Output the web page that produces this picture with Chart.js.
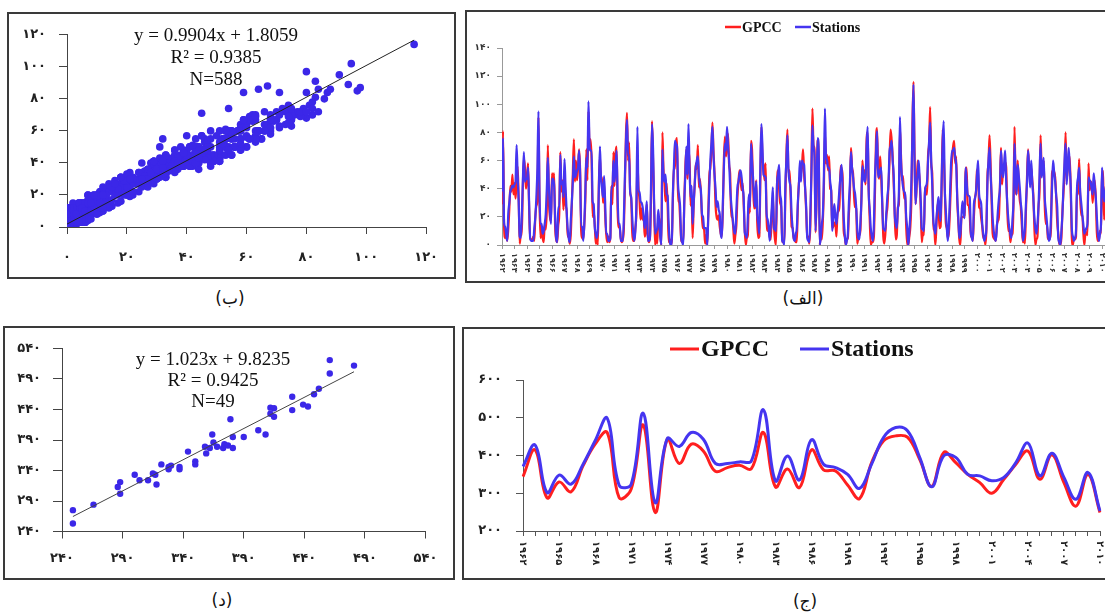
<!DOCTYPE html>
<html><head><meta charset="utf-8">
<script src="https://cdn.jsdelivr.net/npm/chart.js@4.4.1/dist/chart.umd.min.js"></script>
<style>
html,body{margin:0;padding:0;background:#fff;width:1105px;height:613px;overflow:hidden;position:relative;}
.panel{position:absolute;box-sizing:border-box;border:2px solid #3a3a3a;background:#fff;}
canvas{position:absolute;}
.eq{position:absolute;font-family:"Liberation Serif","Times New Roman",serif;color:#111;text-align:center;white-space:nowrap;font-size:19px;}
.cap{position:absolute;font-family:"DejaVu Sans",sans-serif;font-size:17px;color:#111;text-align:center;line-height:20px;white-space:nowrap;}
</style></head>
<body>
<div class="panel" style="left:7px;top:12px;width:449px;height:267px"></div>
<div class="panel" style="left:465px;top:10px;width:700px;height:273px"></div>
<div class="panel" style="left:3px;top:326px;width:452px;height:254px"></div>
<div class="panel" style="left:462px;top:327px;width:700px;height:253px"></div>

<canvas id="cB" width="445" height="263" style="left:9px;top:14px"></canvas>
<canvas id="cA" width="665" height="268" style="left:468px;top:12px"></canvas>
<canvas id="cD" width="448" height="250" style="left:5px;top:328px"></canvas>
<canvas id="cJ" width="660" height="249" style="left:464px;top:329px"></canvas>

<div class="eq" style="left:66px;top:24px;width:300px;line-height:22px">y = 0.9904x + 1.8059<br>R² = 0.9385<br>N=588</div>
<div class="eq" style="left:63px;top:348px;width:300px;line-height:21px">y = 1.023x + 9.8235<br>R² = 0.9425<br>N=49</div>

<div class="cap" dir="rtl" style="left:200px;top:288px;width:60px">(ب)</div>
<div class="cap" dir="rtl" style="left:763px;top:288px;width:80px">(الف)</div>
<div class="cap" dir="rtl" style="left:192px;top:590px;width:60px">(د)</div>
<div class="cap" dir="rtl" style="left:775px;top:591px;width:60px">(ج)</div>

<script>
// ---------- categories / tick labels ----------
const yearLabels = ['۱۹۶۲','۱۹۶۳','۱۹۶۴','۱۹۶۵','۱۹۶۶','۱۹۶۷','۱۹۶۸','۱۹۶۹','۱۹۷۰','۱۹۷۱','۱۹۷۲','۱۹۷۳','۱۹۷۴','۱۹۷۵','۱۹۷۶','۱۹۷۷','۱۹۷۸','۱۹۷۹','۱۹۸۰','۱۹۸۱','۱۹۸۲','۱۹۸۳','۱۹۸۴','۱۹۸۵','۱۹۸۶','۱۹۸۷','۱۹۸۸','۱۹۸۹','۱۹۹۰','۱۹۹۱','۱۹۹۲','۱۹۹۳','۱۹۹۴','۱۹۹۵','۱۹۹۶','۱۹۹۷','۱۹۹۸','۱۹۹۹','۲۰۰۰','۲۰۰۱','۲۰۰۲','۲۰۰۳','۲۰۰۴','۲۰۰۵','۲۰۰۶','۲۰۰۷','۲۰۰۸','۲۰۰۹','۲۰۱۰'];
const monthlyScatterTicks = ['۰','۲۰','۴۰','۶۰','۸۰','۱۰۰','۱۲۰'];
const monthlyYTicks = ['۰','۲۰','۴۰','۶۰','۸۰','۱۰۰','۱۲۰','۱۴۰'];
const annualYTicks = ['۲۰۰','۳۰۰','۴۰۰','۵۰۰','۶۰۰'];
const annualScatterTicks = ['۲۴۰','۲۹۰','۳۴۰','۳۹۰','۴۴۰','۴۹۰','۵۴۰'];

// ---------- annual series (ج) ----------
const gpccAnnual = [344,415,288,330,304,373,430,461,288,311,481,249,443,379,430,412,358,368,374,365,461,317,364,315,415,362,359,322,286,381,439,452,448,390,318,408,381,350,328,300,337,377,412,337,402,328,266,350,249];
const stationsAnnual = [371,428,302,348,324,377,439,499,321,324,512,275,445,424,461,443,379,379,383,386,521,333,399,335,442,377,368,350,313,377,448,474,465,395,317,399,395,350,346,333,342,381,433,346,406,342,284,355,253];

// ---------- monthly series (الف) ----------
const stationsMonthly = [
38,76,16,13,8,3,22,30,38,40,42,41,
43,45,71,50,31,6,5,20,45,66,45,47,
47,55,31,5,3,3,3,12,20,34,55,95,
36,15,15,8,10,15,22,40,62,41,25,15,
47,47,43,20,5,2,27,27,64,43,45,34,
61,41,25,12,5,2,17,30,45,63,48,50,
53,55,67,50,13,13,3,15,38,62,55,102,
72,67,67,31,29,13,8,5,12,40,70,48,
40,34,49,31,8,8,3,3,5,41,41,60,
45,55,67,34,15,15,3,3,3,20,50,74,
89,64,64,38,34,20,8,3,10,29,84,38,
38,31,30,27,20,12,20,31,3,3,5,40,
86,69,31,8,10,12,25,16,5,0,68,50,
45,50,36,35,15,3,0,0,36,55,74,72,
70,43,35,27,5,2,0,31,50,70,50,86,
55,34,42,15,30,43,55,60,63,50,43,38,
22,20,12,12,12,0,20,41,60,72,84,64,
50,40,27,31,25,22,8,5,30,55,72,67,
84,70,60,41,30,22,15,9,8,25,41,45,
50,53,48,40,34,9,7,5,20,36,27,72,
60,48,35,27,45,22,15,8,57,86,70,50,
49,48,22,18,12,3,15,27,41,12,11,10,
43,50,57,36,31,3,2,0,43,60,78,53,
45,41,22,12,5,3,8,12,30,43,60,45,
60,58,57,40,27,5,3,2,22,50,85,70,
62,10,40,76,67,0,5,15,22,50,97,64,
60,55,55,45,38,10,20,29,20,15,22,30,
41,50,57,38,20,8,0,3,8,30,45,66,
55,48,40,36,27,12,5,4,15,31,56,50,
45,48,70,84,38,25,12,6,3,15,48,65,
81,48,50,53,55,30,12,11,10,24,35,43,
67,70,74,60,50,22,15,12,25,38,91,60,
48,41,38,36,20,12,0,10,22,45,80,114,
60,29,43,50,60,45,31,12,11,10,38,42,
45,60,74,87,60,43,19,12,8,18,27,34,
25,17,45,74,88,41,25,12,3,15,34,57,
67,67,69,62,57,34,20,5,8,20,31,25,
19,55,45,36,35,34,10,5,3,29,33,38,
50,60,36,32,29,15,8,3,6,12,45,60,
69,50,36,19,10,5,3,12,24,33,41,67,
55,48,58,67,45,30,19,12,8,5,18,31,
72,50,36,57,50,41,30,22,3,6,12,30,
45,67,55,41,60,45,34,20,12,8,15,27,
50,72,48,55,62,34,25,17,8,3,5,20,
41,60,52,45,35,27,5,2,0,10,22,43,
60,72,43,55,69,55,41,12,6,3,5,10,
41,48,55,38,30,22,15,8,10,12,15,48,
46,45,40,36,51,42,34,20,8,3,8,15,
55,40,31,37,43,15,8,3,41,52,40,30];

const gpccMonthly = [
29,81,13,5,7,3,11,25,42,38,50,36,
44,33,45,56,33,1,7,7,42,62,55,40,
47,58,27,4,4,3,6,3,20,28,32,91,
30,5,13,5,2,14,11,25,71,32,20,17,
51,45,51,13,4,2,14,23,66,38,46,25,
53,29,25,6,7,1,7,28,51,75,45,60,
46,55,68,53,10,5,4,14,32,68,46,95,
70,75,61,20,24,15,1,5,0,44,63,46,
48,30,44,22,8,2,6,2,5,42,29,66,
42,65,70,24,13,12,5,2,4,12,43,79,
94,60,73,38,33,9,3,3,12,22,59,41,
32,18,26,18,20,6,10,29,6,2,5,31,
88,61,28,0,9,1,20,18,7,0,80,54,
43,31,44,28,2,4,0,3,31,56,54,73,
76,31,31,18,4,2,2,31,56,68,47,64,
65,28,35,5,28,43,58,54,71,41,47,36,
19,12,11,1,7,0,22,49,55,66,87,67,
51,28,20,18,21,13,8,6,24,61,77,63,
71,79,57,51,20,20,12,1,7,14,34,45,
53,47,39,44,29,11,0,5,7,34,23,74,
68,43,26,27,46,16,5,6,45,84,62,56,
46,58,19,10,11,6,4,22,34,14,4,0,
43,53,40,30,27,2,2,2,34,64,82,51,
53,36,13,12,4,4,2,2,28,44,48,51,
57,68,50,40,24,5,6,1,14,53,97,71,
68,9,34,74,75,0,7,4,17,41,80,58,
64,53,63,40,39,12,13,16,16,6,22,24,
29,56,54,48,10,6,0,4,5,22,38,69,
55,51,34,27,26,1,5,7,10,33,60,48,
53,43,75,80,39,18,0,2,2,6,36,74,
83,54,47,63,48,30,6,1,8,21,27,43,
59,82,75,63,44,21,4,7,27,29,83,64,
46,49,33,37,13,0,0,6,13,33,86,116,
66,29,40,60,53,45,25,2,9,7,41,36,
36,64,72,98,58,51,11,11,0,13,29,27,
12,13,40,82,67,42,16,12,5,9,24,45,
61,70,74,58,63,32,17,4,0,19,20,20,
21,52,55,29,28,21,6,6,3,20,33,38,
53,54,27,26,19,13,5,6,0,11,49,58,
78,58,31,8,5,4,3,14,17,20,42,69,
43,54,55,59,55,26,10,12,2,7,8,29,
84,43,36,60,44,32,27,14,2,5,1,25,
49,68,53,49,55,46,36,13,0,4,6,27,
38,78,54,52,60,28,15,15,5,4,5,12,
51,53,52,48,34,16,8,1,0,5,24,37,
51,80,47,53,63,63,36,5,0,5,4,6,
42,36,61,35,21,22,9,0,8,9,7,58,
39,45,43,30,42,46,33,9,3,4,10,8,
53,48,18,32,44,11,0,3,29,58,37,30];

// regression equations printed on the panels
const trendMonthly = {slope: 0.9904, intercept: 1.8059};
const trendAnnual = {slope: 1.023, intercept: 9.8235};

// ---------- helpers ----------
const RED = '#ff1f1f', BLUE = '#4535f0', DOT = '#3b27e8';
const faFont = (size) => ({family: '"DejaVu Sans", sans-serif', weight: 'bold', size});
function trendPts(xs, t){
  const a = Math.min(...xs), b = Math.max(...xs);
  return [{x:a, y:t.slope*a+t.intercept},{x:b, y:t.slope*b+t.intercept}];
}
function pairs(xs, ys){ return xs.map((v,i)=>({x:v, y:ys[i]})); }

const rotatedXLabels = {
  id: 'rotatedXLabels',
  afterDraw(chart, args, o){
    if (!o || !o.labels) return;
    const sc = chart.scales.x, ctx = chart.ctx;
    ctx.save();
    ctx.font = o.font; ctx.fillStyle = o.color || '#222';
    ctx.textAlign = 'left'; ctx.textBaseline = 'middle';
    sc.ticks.forEach((t,i)=>{
      if (i % o.every !== 0) return;
      const lab = o.labels[i]; if (!lab) return;
      const x = sc.getPixelForTick(i);
      ctx.save(); ctx.translate(x, sc.top + o.offset); ctx.rotate(Math.PI/2);
      ctx.fillText(lab, 0, 0); ctx.restore();
    });
    ctx.restore();
  }
};
const seriesLegend = {
  id: 'seriesLegend',
  afterDraw(chart, args, o){
    if (!o || !o.items) return;
    const ctx = chart.ctx;
    ctx.save();
    ctx.font = o.font; ctx.textAlign='left'; ctx.textBaseline='middle';
    o.items.forEach(it=>{
      const ds = chart.data.datasets[it.index];
      ctx.strokeStyle = ds.borderColor; ctx.lineWidth = o.lineWidth;
      ctx.beginPath(); ctx.moveTo(it.x, o.y); ctx.lineTo(it.x + o.lineLen, o.y); ctx.stroke();
      ctx.fillStyle = '#111';
      ctx.fillText(ds.label, it.x + o.lineLen + o.gap, o.y + 1);
    });
    ctx.restore();
  }
};
const baseOpts = {responsive:false, animation:false, devicePixelRatio:1, maintainAspectRatio:false};
function axisBits(color, tickLength){
  return {grid:{display:true, drawOnChartArea:false, drawTicks:true, tickLength, color, lineWidth:1},
          border:{display:true, color, width:1}};
}

// ---------- (ب) monthly scatter ----------
new Chart(document.getElementById('cB'), {
  type:'scatter',
  data:{datasets:[
    {label:'trend', data: trendPts(gpccMonthly, trendMonthly), showLine:true, borderColor:'#222', borderWidth:1, pointRadius:0, order:0},
    {label:'N=588', data: pairs(gpccMonthly, stationsMonthly), backgroundColor:DOT, borderWidth:0, pointRadius:3.8, order:1}
  ]},
  options:{...baseOpts,
    layout:{padding:{left:0, top:20, right:22, bottom:0}},
    plugins:{legend:{display:false}, tooltip:{enabled:false}},
    scales:{
      x:{type:'linear', min:0, max:120, ...axisBits('#444',7),
         ticks:{stepSize:20, autoSkip:false, maxRotation:0, callback:(v,i)=>monthlyScatterTicks[i], font:faFont(13), color:'#222', padding:16},
         afterFit:s=>{s.height=50;}},
      y:{type:'linear', min:0, max:120, ...axisBits('#444',8),
         ticks:{stepSize:20, callback:(v,i)=>monthlyScatterTicks[i], font:faFont(13), color:'#222', padding:13},
         afterFit:s=>{s.width=58;}}
    }
  }
});

// ---------- (د) annual scatter ----------
new Chart(document.getElementById('cD'), {
  type:'scatter',
  data:{datasets:[
    {label:'trend', data: trendPts(gpccAnnual, trendAnnual), showLine:true, borderColor:'#444', borderWidth:1, pointRadius:0, order:0},
    {label:'N=49', data: pairs(gpccAnnual, stationsAnnual), backgroundColor:DOT, borderWidth:0, pointRadius:3.2, order:1}
  ]},
  options:{...baseOpts,
    layout:{padding:{left:0, top:20.5, right:27.5, bottom:0}},
    plugins:{legend:{display:false}, tooltip:{enabled:false}},
    scales:{
      x:{type:'linear', min:240, max:540, ...axisBits('#444',7),
         ticks:{stepSize:50, autoSkip:false, maxRotation:0, callback:(v,i)=>annualScatterTicks[i], font:faFont(13), color:'#222', padding:12},
         afterFit:s=>{s.height=46.5;}},
      y:{type:'linear', min:240, max:540, ...axisBits('#444',9),
         ticks:{stepSize:50, callback:(v,i)=>annualScatterTicks[i], font:faFont(13), color:'#222', padding:12},
         afterFit:s=>{s.width=57;}}
    }
  }
});

// ---------- (الف) monthly time series ----------
new Chart(document.getElementById('cA'), {
  type:'line',
  data:{datasets:[
    {label:'GPCC', data: gpccMonthly.map((v,i)=>({x:i,y:v})), borderColor:RED, borderWidth:2.2, pointRadius:0, cubicInterpolationMode:'monotone', order:1},
    {label:'Stations', data: stationsMonthly.map((v,i)=>({x:i,y:v})), borderColor:BLUE, borderWidth:2.2, pointRadius:0, cubicInterpolationMode:'monotone', order:0}
  ]},
  plugins:[rotatedXLabels, seriesLegend],
  options:{...baseOpts,
    layout:{padding:{left:0, top:36, right:19.5, bottom:0}},
    plugins:{legend:{display:false}, tooltip:{enabled:false},
      rotatedXLabels:{labels:yearLabels, every:1, font:'bold 8px "DejaVu Sans"', offset:8, color:'#333'},
      seriesLegend:{y:15, font:'bold 14px "Liberation Serif"', lineWidth:2.5, lineLen:16, gap:1,
        items:[{index:0, x:257},{index:1, x:327}]}},
    scales:{
      x:{type:'linear', min:0, max:stationsMonthly.length-1, ...axisBits('#999',4),
         afterBuildTicks:s=>{s.ticks = yearLabels.map((_,k)=>({value:k*12}));},
         ticks:{display:false}, afterFit:s=>{s.height=35;}},
      y:{min:0, max:140, ...axisBits('#999',5),
         ticks:{stepSize:20, callback:(v,i)=>monthlyYTicks[i], font:faFont(9), color:'#333', padding:6},
         afterFit:s=>{s.width=34;}}
    }
  }
});

// ---------- (ج) annual time series ----------
new Chart(document.getElementById('cJ'), {
  type:'line',
  data:{labels:yearLabels, datasets:[
    {label:'GPCC', data:gpccAnnual, borderColor:RED, borderWidth:3, pointRadius:0, tension:0.4, order:1},
    {label:'Stations', data:stationsAnnual, borderColor:BLUE, borderWidth:3, pointRadius:0, tension:0.4, order:0}
  ]},
  plugins:[rotatedXLabels, seriesLegend],
  options:{...baseOpts,
    layout:{padding:{left:0, top:51, right:24, bottom:0}},
    plugins:{legend:{display:false}, tooltip:{enabled:false},
      rotatedXLabels:{labels:yearLabels, every:3, font:'bold 10px "DejaVu Sans"', offset:10, color:'#222'},
      seriesLegend:{y:20, font:'bold 24px "Liberation Serif"', lineWidth:3, lineLen:29, gap:2,
        items:[{index:0, x:206},{index:1, x:336}]}},
    scales:{
      x:{type:'category', offset:false, ...axisBits('#555',5), ticks:{display:false}, afterFit:s=>{s.height=47;}},
      y:{min:200, max:600, ...axisBits('#555',7),
         ticks:{stepSize:100, callback:(v,i)=>annualYTicks[i], font:faFont(13), color:'#222', padding:14},
         afterFit:s=>{s.width=59;}}
    }
  }
});
</script>
</body></html>
